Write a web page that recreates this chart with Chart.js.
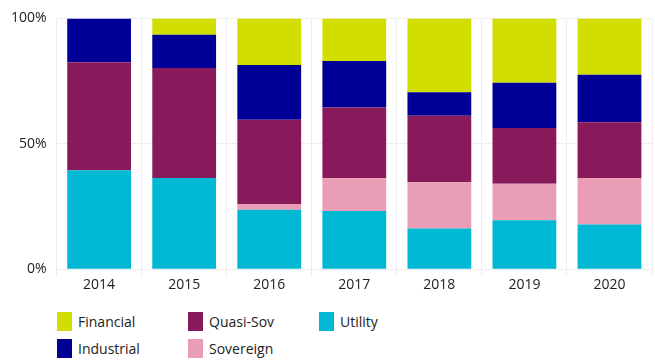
<!DOCTYPE html>
<html>
<head>
<meta charset="utf-8">
<script src="https://cdn.jsdelivr.net/npm/chart.js@4"></script>
<style>
  html, body { margin: 0; padding: 0; background: #fff; }
  #wrap { position: relative; width: 655px; height: 293px; }
  #legend { position: absolute; left: 57px; top: 311px; display: grid;
    grid-template-columns: 131px 131px 131px; grid-auto-flow: column; grid-template-rows: 27px 27px;
    font-family: "Open Sans", sans-serif; font-size: 14px; color: #222; }
  .item { display: flex; align-items: center; height: 20px; }
  .box { width: 15px; height: 19px; margin-right: 6px; }
</style>
</head>
<body>
<div id="wrap"><canvas id="c"></canvas></div>
<div id="legend"></div>
<script>
const categories = ["2014", "2015", "2016", "2017", "2018", "2019", "2020"];
const utility    = [39.5, 36.4, 23.7, 23.2, 16.2, 19.5, 17.8];
const sovereign  = [0, 0, 2.3, 13.2, 18.5, 14.6, 18.6];
const quasiSov   = [43.0, 43.8, 33.6, 28.1, 26.5, 22.2, 22.2];
const industrial = [17.5, 13.3, 21.8, 18.5, 9.4, 18.0, 18.9];
const financial  = [0, 6.5, 18.6, 17.0, 29.4, 25.7, 22.5];
const yTicks = [0, 50, 100];

const series = [
  { label: "Utility", data: utility, color: "#00b8d3" },
  { label: "Sovereign", data: sovereign, color: "#e99db6" },
  { label: "Quasi-Sov", data: quasiSov, color: "#881a5c" },
  { label: "Industrial", data: industrial, color: "#000096" },
  { label: "Financial", data: financial, color: "#d2de00" }
];

const font = { family: "'Open Sans', sans-serif", size: 14 };

const chart = new Chart(document.getElementById("c"), {
  type: "bar",
  data: {
    labels: categories,
    datasets: series.map(s => ({
      label: s.label, data: s.data, backgroundColor: s.color,
      borderWidth: 0, barPercentage: 0.75, categoryPercentage: 1.0
    }))
  },
  options: {
    responsive: true, maintainAspectRatio: false, animation: false,
    layout: { padding: { left: 1, right: 3, top: 9, bottom: 0 } },
    plugins: { legend: { display: false }, tooltip: { enabled: false } },
    scales: {
      x: {
        stacked: true,
        grid: { color: "#eeeeee", tickLength: 7, offset: true, drawOnChartArea: true },
        border: { display: false },
        ticks: { font: font, color: "#222", padding: 0 }
      },
      y: {
        stacked: true, min: 0, max: 100,
        afterBuildTicks: axis => { axis.ticks = yTicks.map(v => ({ value: v })); },
        grid: { color: "#eeeeee", drawTicks: false },
        border: { display: false },
        ticks: { font: font, color: "#222", padding: 10, callback: v => v + "%" }
      }
    }
  }
});

const legendOrder = ["Financial", "Industrial", "Quasi-Sov", "Sovereign", "Utility"];
const lg = document.getElementById("legend");
legendOrder.forEach(name => {
  const s = series.find(x => x.label === name);
  const d = document.createElement("div");
  d.className = "item";
  d.innerHTML = '<span class="box" style="background:' + s.color + '"></span><span>' + s.label + '</span>';
  lg.appendChild(d);
});
</script>
</body>
</html>
